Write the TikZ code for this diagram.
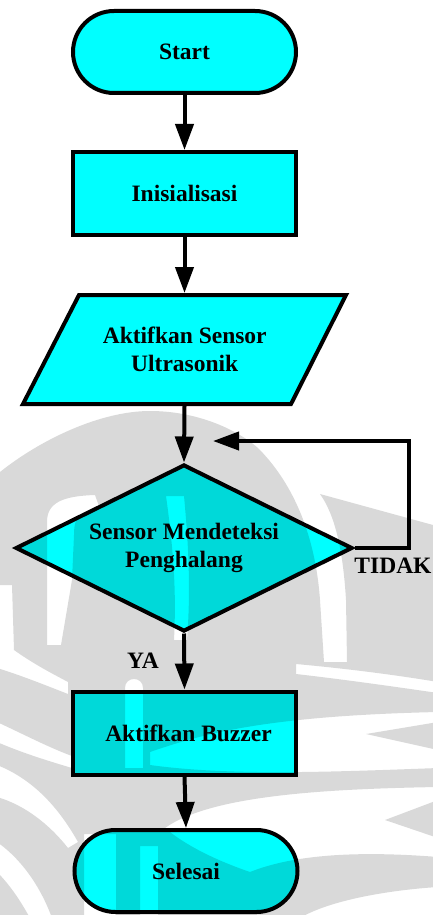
\documentclass[tikz,border=0pt]{standalone}
\usepackage{fontspec}
\setmainfont{Liberation Serif}
\usetikzlibrary{arrows.meta,shapes.misc,shapes.geometric}
\definecolor{boxfill}{RGB}{0,255,255}

\begin{document}
\begin{tikzpicture}[x=1pt,y=-1pt,
  outline/.style={draw=black,line width=4pt,fill=boxfill},
  terminal/.style={outline,shape=rounded rectangle,rounded rectangle arc length=180,
    minimum width=223pt,minimum height=82pt,inner sep=0pt},
  process/.style={outline,shape=rectangle,minimum width=223pt,minimum height=83pt,inner sep=0pt},
  decision/.style={outline,shape=diamond,minimum width=337pt,minimum height=167pt,inner sep=0pt},
  txt/.style={font=\fontsize{23.5}{28}\selectfont\bfseries,align=center,inner sep=0pt},
  flow/.style={draw=black,line width=4pt,-{Triangle[length=26pt,width=18pt]}}]

\useasboundingbox (0,0) rectangle (433,915);
\fill[white] (0,0) rectangle (433,915);

% flowchart shapes
\node[terminal] (start) at (184.5,52) {};
\node[process] (init) at (184.5,193.5) {};
\draw[outline] (79,295) -- (346,295) -- (291,404) -- (23,404) -- cycle;
\coordinate (sens-n) at (184.5,293);
\coordinate (sens-s) at (184.5,406);
\node[decision] (dec) at (184,548) {};
\node[process] (buzz) at (184.5,733) {};
\node[terminal] (stop) at (186,871) {};

% texts
\node[txt] (tstart) at (start.center) {Start};
\node[txt] (tinit) at (init.center) {Inisialisasi};
\node[txt] (tsens) at (184.75,349.5) {Aktifkan Sensor\\Ultrasonik};
\node[txt] (tdec) at (dec.center) {Sensor Mendeteksi\\Penghalang};
\node[txt] (tbuzz) at ([xshift=4pt]buzz.center) {Aktifkan Buzzer};
\node[txt] (tstop) at (stop.center) {Selesai};
\node[txt] (tidak) at (393,566) {TIDAK};
\node[txt] (ya) at (143,661) {YA};

% connectors
\draw[flow] (start.south) -- (init.north);
\draw[flow] (init.south) -- (sens-n);
\draw[flow] (sens-s) -- (dec.north);
\draw[flow] (dec.south) -- (buzz.north);
\draw[flow] (buzz.south) -- (stop.north);
\coordinate (loopx) at (409,441);
\coordinate (loopend) at (213,441);
\draw[flow] (dec.east) -| (loopx) -- (loopend);

% faint emblem in the background
\fill[black,fill opacity=0.15,even odd rule]
  (-5,474) -- (0,472) .. controls (40,440) and (100,411) .. (150,411)
    .. controls (195,411) and (235,428) .. (258,448)
    .. controls (290,480) and (315,530) .. (320,600) -- (324,662) -- (347,662) -- (346,600)
    .. controls (343,550) and (335,515) .. (320,494) -- (433,525) -- (440,527)
    -- (440,920) -- (-5,920) -- cycle
  % inner arch, left leg
  (47,645) -- (47,522) .. controls (47,503) and (62,496) .. (95,495) -- (100,509)
    .. controls (80,510) and (74,516) .. (74,535) -- (72,580) -- (61,645) -- cycle
  % central stripe
  (166,496) -- (184,496) .. controls (190,560) and (190,600) .. (187,640)
    -- (174,640) .. controls (176,600) and (175,560) .. (166,496) -- cycle
  % stripe below the decision
  (125,768) -- (125,688) .. controls (125,676) and (143,676) .. (143,688) -- (143,768) -- cycle
  % right-hand bands
  (296,664) .. controls (340,668) and (390,674) .. (438,682) -- (438,693)
    .. controls (390,686) and (340,679) .. (296,674) -- cycle
  (150,765) -- (150,752) .. controls (200,735) and (260,716) .. (438,712) -- (438,722)
    -- (366,734) -- (438,750) -- (438,768) .. controls (330,772) and (230,776) .. (150,765) -- cycle
  (165,828) .. controls (210,796) and (320,789) .. (438,787) -- (438,800) -- (385,820)
    -- (438,838) -- (438,857) .. controls (350,850) and (290,856) .. (250,872)
    .. controls (215,860) and (185,845) .. (165,828) -- cycle
  (300,918) .. controls (330,900) and (390,890) .. (438,887) -- (438,918) -- cycle
  % left-hand bands
  (-3,585) -- (12,585) -- (14,650) .. controls (35,665) and (55,675) .. (68,682) -- (68,694)
    .. controls (45,685) and (20,675) .. (-3,668) -- cycle
  (-3,722) .. controls (25,735) and (50,748) .. (72,756) -- (72,768)
    .. controls (45,760) and (20,752) .. (-3,742) -- cycle
  (-3,765) .. controls (35,780) and (60,810) .. (78,842) -- (68,848)
    .. controls (50,825) and (25,805) .. (-3,797) -- cycle
  (-3,842) .. controls (20,858) and (40,885) .. (52,918) -- (30,918)
    .. controls (20,900) and (10,885) .. (-3,872) -- cycle
  % stripes through the end terminal
  (84,834) -- (116,834) -- (116,918) -- (84,918) -- cycle
  (140,846) -- (158,846) -- (158,918) -- (140,918) -- cycle;
\end{tikzpicture}
\end{document}
